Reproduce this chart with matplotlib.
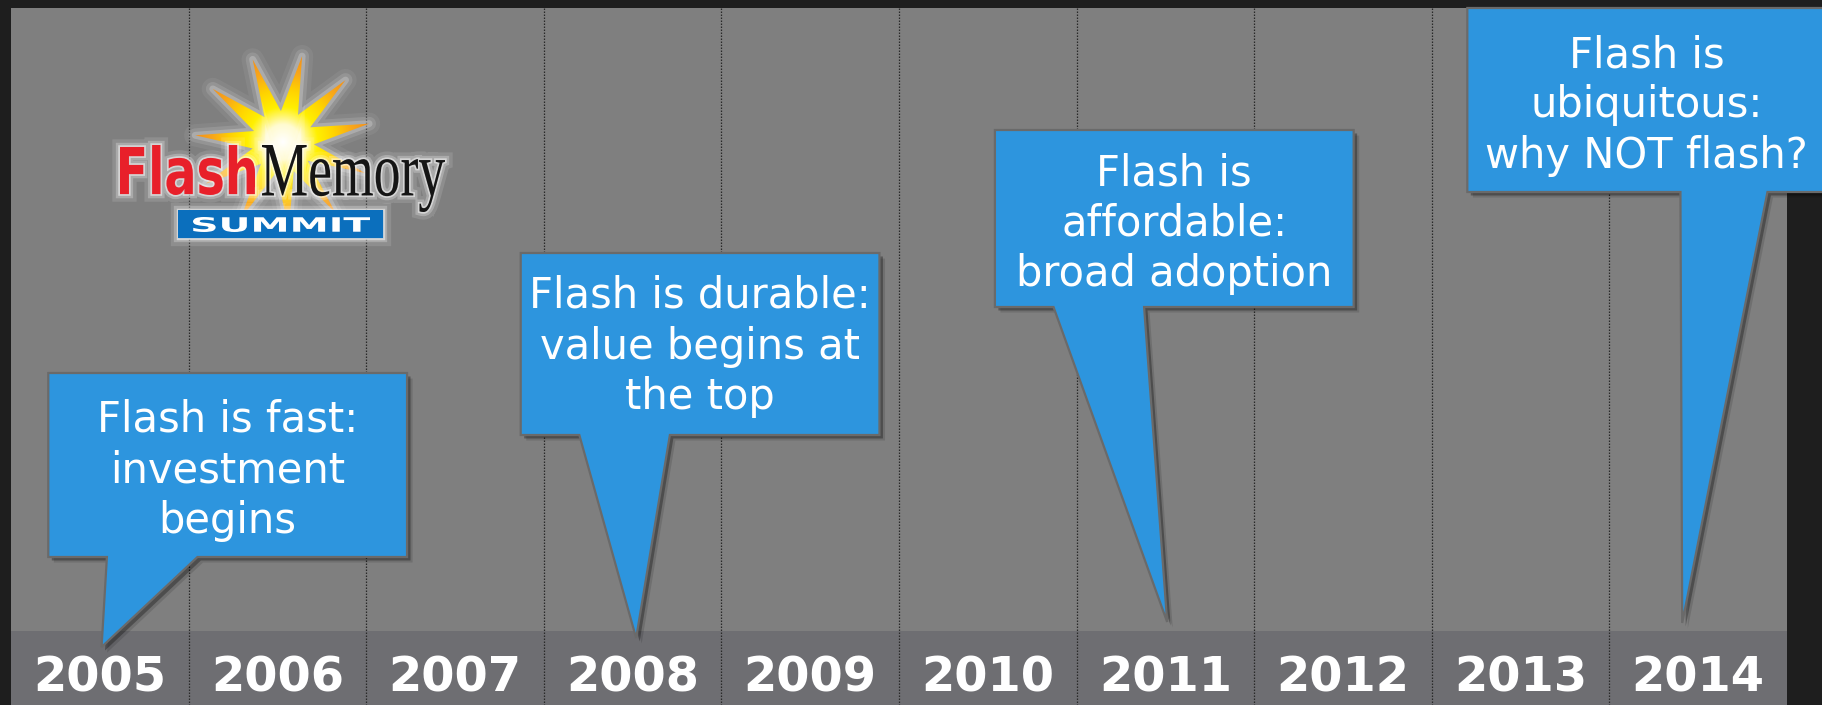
import numpy as np
import matplotlib
matplotlib.use("Agg")
import matplotlib.pyplot as plt
import matplotlib.patheffects as pe
from matplotlib.patches import Polygon, Rectangle, PathPatch
from matplotlib.textpath import TextPath
from matplotlib.font_manager import FontProperties
from matplotlib.colors import LinearSegmentedColormap
from matplotlib.transforms import Affine2D

# timeline data
years = [2005, 2006, 2007, 2008, 2009, 2010, 2011, 2012, 2013, 2014]
event_years = [2005, 2008, 2011, 2014]
event_texts = [
    ["Flash is fast:", "investment", "begins"],
    ["Flash is durable:", "value begins at", "the top"],
    ["Flash is", "affordable:", "broad adoption"],
    ["Flash is", "ubiquitous:", "why NOT flash?"],
]

# callout layout: x in years (relative to tip), y in pixel rows from the top
tip_shift = [0.01, 0.02, 0.01, -0.09]
tip_y = [647, 638, 622, 623]
box_left = [-0.30, -0.65, -0.97, -1.21]
box_width = 2.02
box_top = [373, 253, 130, 8]
box_bottom = [557, 435, 307, 192]
tail_base = [(0.03, 0.54), (-0.32, 0.19), (-0.64, -0.13), (-0.01, 0.48)]
first_baseline = [432, 308, 185, 67]
line_gap = 50.5

W, H = 1822, 705
BLUE = '#2d95de'

fig = plt.figure(figsize=(W / 100, H / 100), dpi=100, facecolor='#1e1e1e')
ax = fig.add_axes([11 / W, 0, 1776 / W, 697 / H])
ax.set_xlim(years[0] - 0.5, years[-1] + 0.5)
ax.set_ylim(705, 8)
ax.set_axis_off()

# panel and year band
ax.axhspan(8, 631, color='#7f7f7f', lw=0, zorder=0)
ax.axhspan(631, 705, color='#6e6e72', lw=0, zorder=0)
ax.vlines([y + 0.5 for y in years[:-1]], 8, 705, colors='#2a2a2a',
          linestyles=(0, (1.2, 1.2)), lw=0.9, zorder=1)

for y in years:
    ax.text(y, 692, str(y), ha='center', va='baseline', fontsize=34.5,
            fontweight='bold', color='white', family='DejaVu Sans', zorder=5)

# callouts
shadow = [pe.SimplePatchShadow(offset=(4, -4), shadow_rgbFace='k', alpha=0.12),
          pe.SimplePatchShadow(offset=(2.5, -2.5), shadow_rgbFace='k', alpha=0.3),
          pe.Normal()]
for i, ev in enumerate(event_years):
    tx = ev + tip_shift[i]
    L = tx + box_left[i]
    R = L + box_width
    T, B = box_top[i], box_bottom[i]
    bl, br = tx + tail_base[i][0], tx + tail_base[i][1]
    verts = [(L, T), (R, T), (R, B), (br, B), (tx, tip_y[i]), (bl, B), (L, B)]
    poly = Polygon(verts, closed=True, fc=BLUE, ec='#6a6a6a', lw=1.6,
                   joinstyle='miter', zorder=3, clip_on=False)
    poly.set_path_effects(shadow)
    ax.add_patch(poly)
    cx = L + box_width / 2
    for j, line in enumerate(event_texts[i]):
        ax.text(cx, first_baseline[i] + j * line_gap, line, ha='center',
                va='baseline', fontsize=30, color='white', family='DejaVu Sans',
                zorder=4, clip_on=False)

# logo overlay in pixel coordinates
lax = fig.add_axes([0, 0, 1, 1])
lax.set_axis_off()
lax.patch.set_alpha(0)


def fitted_text(s, x0, x1, y_top, y_bot, family, weight, color, effects):
    tp = TextPath((0, 0), s, size=100, prop=FontProperties(family=family, weight=weight))
    bb = tp.get_extents()
    tr = Affine2D().translate(-bb.x0, -bb.y0).scale((x1 - x0) / bb.width,
                                                      -(y_bot - y_top) / bb.height).translate(x0, y_bot)
    patch = PathPatch(tr.transform_path(tp), fc=color, ec='none', lw=0, zorder=6)
    patch.set_path_effects(effects)
    lax.add_patch(patch)


cx, cy, R, r = 283, 142, 88, 31
n = 22
ang = np.deg2rad(12 + np.arange(n) * 360 / n)
rad = np.where(np.arange(n) % 2 == 0, R, r)
star = np.column_stack([cx + rad * np.cos(ang), cy - rad * np.sin(ang)])

for lw, a in [(16, 0.06), (10, 0.12), (5, 0.22)]:
    lax.add_patch(Polygon(star, closed=True, fc='none', ec='white', lw=lw,
                          alpha=a, joinstyle='round', zorder=2))
gx, gy = np.meshgrid(np.linspace(-1, 1, 300), np.linspace(-1, 1, 300))
dist = np.hypot(gx, gy)
sun = LinearSegmentedColormap.from_list(
    'sun', ['#ffffff', '#fffbd0', '#fff000', '#ffd200', '#f9a71a', '#f39019'])
im = lax.imshow(dist, cmap=sun, vmin=0, vmax=1, extent=(cx - R, cx + R, cy + R, cy - R),
                aspect='auto', zorder=3, interpolation='bilinear')
clip = Polygon(star, closed=True, fc='none', ec='none', transform=lax.transData)
lax.add_patch(clip)
im.set_clip_path(clip)

glow = [pe.Stroke(linewidth=11, foreground='white', alpha=0.12),
        pe.Stroke(linewidth=6, foreground='white', alpha=0.25),
        pe.Stroke(linewidth=2.5, foreground='white', alpha=0.5),
        pe.Normal()]
bar = Rectangle((178, 210), 205, 28, fc='#0b6fbd', ec='none', zorder=5)
bar.set_path_effects(glow)
lax.add_patch(bar)
fitted_text("Flash", 120, 255, 145, 195, 'DejaVu Sans', 'bold', '#e8202a', glow)
fitted_text("Memory", 262, 445, 145, 212, 'Liberation Serif', 'normal', '#151515', glow)
fitted_text("SUMMIT", 193, 370, 217, 232, 'DejaVu Sans', 'bold', 'white', [pe.Normal()])

lax.set_xlim(0, W)
lax.set_ylim(H, 0)

fig.savefig('out.png', dpi=100, facecolor=fig.get_facecolor())
